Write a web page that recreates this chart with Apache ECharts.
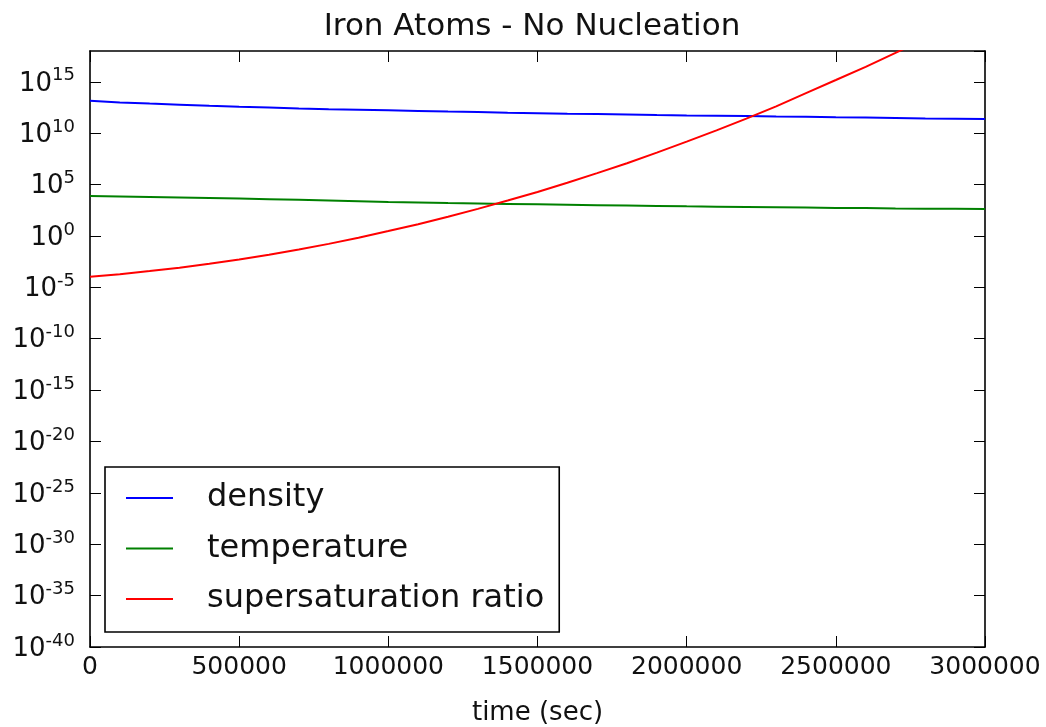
<!DOCTYPE html>
<html>
<head>
<meta charset="utf-8">
<script src="https://cdn.jsdelivr.net/npm/echarts@6/dist/echarts.min.js"></script>
<style>
html,body{margin:0;padding:0;background:#fff;}
#chart{width:1046px;height:727px;}
</style>
</head>
<body>
<div id="chart"></div>
<script>
// time in seconds
const times = [0,100000,200000,300000,400000,500000,600000,700000,800000,900000,1000000,
  1100000,1200000,1300000,1400000,1500000,1600000,1700000,1800000,1900000,2000000,
  2100000,2200000,2300000,2400000,2500000,2600000,2700000,2800000,2900000,3000000];
const density = [1.41e13,1.0e13,7.6e12,5.9e12,4.6e12,3.7e12,3.1e12,2.6e12,2.2e12,1.95e12,1.7e12,
  1.48e12,1.29e12,1.15e12,1.0e12,8.9e11,7.9e11,7.2e11,6.5e11,5.9e11,5.4e11,
  5.0e11,4.6e11,4.2e11,3.9e11,3.5e11,3.3e11,3.0e11,2.75e11,2.6e11,2.35e11];
const temperature = [7590,6920,6170,5500,4900,4370,3800,3310,2820,2400,2000,
  1780,1580,1450,1320,1200,1100,1000,912,832,759,
  708,661,617,575,537,513,479,457,437,417];
const supersaturation = [1.1e-4,1.9e-4,3.8e-4,8.2e-4,2.0e-3,5.2e-3,1.5e-2,4.9e-2,0.17,0.68,3.0,
  14,74,430,2.8e3,1.9e4,1.5e5,1.3e6,1.2e7,1.3e8,1.5e9,
  1.9e10,2.6e11,4.1e12,7.9e13,1.5e15,2.9e16,6.5e17,1.6e19,4.4e20,1.3e22];
const seriesNames = ['density','temperature','supersaturation ratio'];
const xTicks = {min:0, max:3000000, interval:500000};
// y axis in decades (powers of ten): 10^-40 .. 10^18, a tick every 5 decades
const yDecades = {min:-40, max:18, interval:5};

const FONT = 'DejaVu Sans';
// plotted on a decade (log10) scale
function pairs(ys){ return times.map((t,i)=>[t, Math.log10(ys[i])]); }
function supLabel(e){
  return '{b|10}{s|' + Math.round(e) + '}';
}
const axisLineStyle = {color:'#000', width:1.6};
const tickStyle = {show:true, inside:true, length:11, lineStyle:{color:'#000', width:1}};
function yAx(extra){
  return Object.assign({
    type:'value', min:yDecades.min, max:yDecades.max, interval:yDecades.interval,
    axisLine:{show:true, onZero:false, lineStyle:axisLineStyle},
    axisTick:tickStyle,
    splitLine:{show:false}
  }, extra);
}
const option = {
  animation:false,
  backgroundColor:'#fff',
  title:{
    text:'Iron Atoms - No Nucleation',
    left:527, top:6, textAlign:'center',
    textStyle:{fontFamily:FONT, fontSize:31, fontWeight:'normal', color:'#111'}
  },
  grid:{left:90, top:51, right:61, bottom:80, containLabel:false, outerBoundsMode:'none'},
  legend:{
    orient:'vertical', left:105, top:467,
    data:seriesNames, icon:'rect',
    backgroundColor:'#fff', borderColor:'#000', borderWidth:1.6, borderRadius:0,
    padding:[13,15,15,21],
    itemWidth:47, itemHeight:2, itemGap:14.5,
    textStyle:{fontFamily:FONT, fontSize:32, color:'#111', padding:[0,0,0,29], lineHeight:36}
  },
  xAxis:[{
    type:'value', min:xTicks.min, max:xTicks.max, interval:xTicks.interval,
    position:'bottom',
    name:'time (sec)', nameLocation:'middle', nameGap:53,
    nameTextStyle:{fontFamily:FONT, fontSize:26, color:'#111'},
    axisLine:{show:true, onZero:false, lineStyle:axisLineStyle},
    axisTick:tickStyle,
    axisLabel:{fontFamily:FONT, fontSize:25, color:'#111', margin:8, formatter:v=>String(v)},
    splitLine:{show:false}
  },{
    type:'value', min:xTicks.min, max:xTicks.max, interval:xTicks.interval,
    position:'top',
    axisLine:{show:true, onZero:false, lineStyle:axisLineStyle},
    axisTick:tickStyle,
    axisLabel:{show:false}, splitLine:{show:false}
  }],
  yAxis:[yAx({
    position:'left',
    axisLabel:{
      showMaxLabel:false, margin:15,
      formatter:supLabel,
      rich:{
        b:{fontFamily:FONT, fontSize:26, color:'#111', verticalAlign:'bottom', lineHeight:30},
        s:{fontFamily:FONT, fontSize:18, color:'#111', verticalAlign:'top', lineHeight:18}
      }
    }
  }), yAx({position:'right', axisLabel:{show:false}})],
  series:[
    {name:seriesNames[0], type:'line', data:pairs(density), symbol:'none', clip:true,
     lineStyle:{color:'#0000ff', width:2}, itemStyle:{color:'#0000ff'}},
    {name:seriesNames[1], type:'line', data:pairs(temperature), symbol:'none', clip:true,
     lineStyle:{color:'#008000', width:2}, itemStyle:{color:'#008000'}},
    {name:seriesNames[2], type:'line', data:pairs(supersaturation), symbol:'none', clip:true,
     lineStyle:{color:'#ff0000', width:2}, itemStyle:{color:'#ff0000'}}
  ]
};
const chart = echarts.init(document.getElementById('chart'));
chart.setOption(option);
</script>
</body>
</html>
